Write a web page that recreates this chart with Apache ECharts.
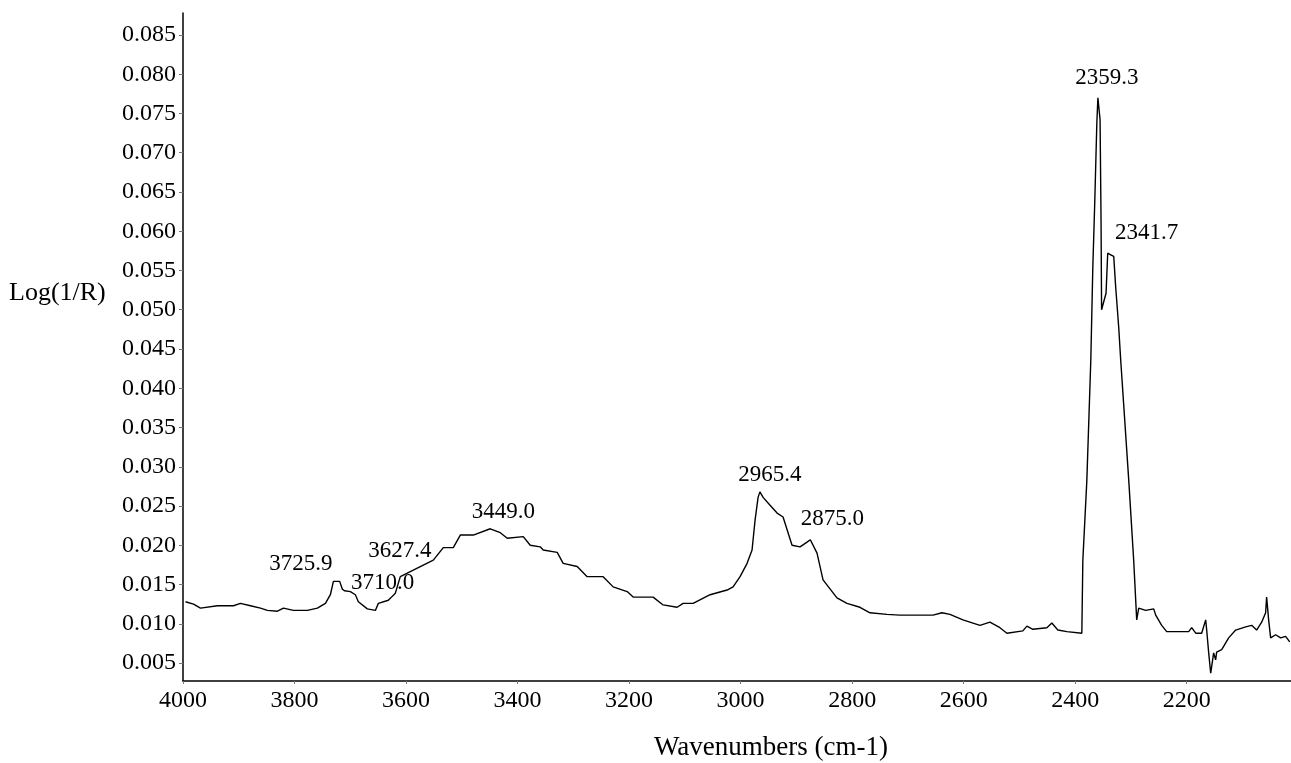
<!DOCTYPE html>
<html>
<head>
<meta charset="utf-8">
<script src="https://cdn.jsdelivr.net/npm/echarts@6/dist/echarts.min.js"></script>
<style>
  html, body { margin: 0; padding: 0; background: #ffffff; }
  #chart { width: 1291px; height: 763px; }
</style>
</head>
<body>
<div id="chart"></div>
<script>
// FTIR reflectance spectrum, Log(1/R) against wavenumber (cm-1)
const wavenumbers = [
  3995.5, 3981.2, 3968.6, 3938.2, 3909.5, 3897.0, 3879.0, 3861.1, 3848.6, 3830.6,
  3819.9, 3802.0, 3776.9, 3759.0, 3744.6, 3735.7, 3730.3, 3725.9, 3719.0, 3714.2,
  3710.0, 3699.8, 3690.9, 3685.5, 3669.4, 3655.0, 3649.7, 3631.8, 3627.4, 3619.2,
  3610.3, 3579.8, 3551.1, 3533.2, 3515.3, 3502.7, 3479.4, 3449.0, 3431.0, 3418.5,
  3389.8, 3377.3, 3359.4, 3354.0, 3328.9, 3318.2, 3293.1, 3275.2, 3246.5, 3228.6,
  3203.5, 3192.7, 3156.9, 3139.0, 3113.9, 3103.1, 3085.2, 3054.7, 3024.3, 3013.5,
  3001.0, 2988.4, 2979.5, 2974.1, 2968.7, 2965.4, 2959.7, 2947.2, 2934.6, 2923.9,
  2907.8, 2893.4, 2880.9, 2875.0, 2863.0, 2852.2, 2827.2, 2809.3, 2786.0, 2768.0,
  2737.6, 2714.3, 2655.0, 2639.0, 2624.6, 2601.3, 2570.8, 2552.9, 2535.0, 2522.5,
  2493.8, 2486.7, 2475.9, 2450.8, 2441.9, 2431.1, 2415.0, 2388.1, 2386.3, 2379.1,
  2372.0, 2368.4, 2364.8, 2361.2, 2359.3, 2355.4, 2353.6, 2352.7, 2344.7, 2341.7,
  2336.3, 2330.9, 2327.4, 2322.0, 2318.4, 2304.0, 2295.1, 2289.7, 2286.1, 2273.6,
  2259.2, 2255.6, 2244.9, 2235.9, 2196.5, 2191.1, 2183.9, 2173.2, 2166.0, 2164.2,
  2160.6, 2157.0, 2151.7, 2148.1, 2146.3, 2137.3, 2124.8, 2112.2, 2094.3, 2083.5,
  2074.6, 2065.6, 2058.5, 2056.7, 2053.1, 2049.5, 2040.5, 2031.6, 2022.6, 2015.4
];

const logInvR = [
  0.0128, 0.0125, 0.0120, 0.0123, 0.0123, 0.0126, 0.0123, 0.0120, 0.0117, 0.0116,
  0.0120, 0.0117, 0.0117, 0.0120, 0.0126, 0.0137, 0.0154, 0.0154, 0.0154, 0.0144,
  0.0142, 0.0141, 0.0137, 0.0128, 0.0119, 0.0117, 0.0126, 0.0130, 0.0133, 0.0139,
  0.0160, 0.0171, 0.0181, 0.0197, 0.0197, 0.0213, 0.0213, 0.0221, 0.0216, 0.0209,
  0.0211, 0.0200, 0.0198, 0.0194, 0.0191, 0.0177, 0.0173, 0.0160, 0.0160, 0.0147,
  0.0141, 0.0134, 0.0134, 0.0124, 0.0121, 0.0126, 0.0126, 0.0137, 0.0143, 0.0147,
  0.0160, 0.0177, 0.0194, 0.0232, 0.0261, 0.0268, 0.0261, 0.0251, 0.0241, 0.0236,
  0.0200, 0.0198, 0.0204, 0.0207, 0.0190, 0.0156, 0.0133, 0.0126, 0.0121, 0.0114,
  0.0112, 0.0111, 0.0111, 0.0114, 0.0112, 0.0105, 0.0098, 0.0102, 0.0095, 0.0088,
  0.0091, 0.0097, 0.0093, 0.0095, 0.0101, 0.0092, 0.0090, 0.0088, 0.0181, 0.0283,
  0.0436, 0.0554, 0.0640, 0.0738, 0.0770, 0.0742, 0.0610, 0.0500, 0.0521, 0.0572,
  0.0570, 0.0568, 0.0529, 0.0478, 0.0436, 0.0283, 0.0181, 0.0105, 0.0120, 0.0117,
  0.0119, 0.0111, 0.0098, 0.0090, 0.0090, 0.0095, 0.0088, 0.0088, 0.0105, 0.0092,
  0.0063, 0.0037, 0.0063, 0.0054, 0.0064, 0.0067, 0.0082, 0.0092, 0.0096, 0.0098,
  0.0092, 0.0102, 0.0114, 0.0134, 0.0105, 0.0082, 0.0086, 0.0082, 0.0084, 0.0077
];

// Annotated band positions (cm-1)
const peakWavenumbers = [3725.9, 3710.0, 3627.4, 3449.0, 2965.4, 2875.0, 2359.3, 2341.7];

// Axis tick labels
const xTicks = [4000, 3800, 3600, 3400, 3200, 3000, 2800, 2600, 2400, 2200];
const yTicks = [0.005, 0.010, 0.015, 0.020, 0.025, 0.030, 0.035, 0.040, 0.045,
                0.050, 0.055, 0.060, 0.065, 0.070, 0.075, 0.080, 0.085];

// Pixel offsets of each band label from its peak
const peakLabelOffsets = [[-35, -17], [38, -8], [9, -47], [13, -17], [10, -17], [22, -21], [9, -20], [39, -20]];

const serif = '"Liberation Serif", "Times New Roman", serif';

const spectrum = wavenumbers.map((w, i) => [w, logInvR[i]]);
const peaks = peakWavenumbers.map((w, i) => ({
  value: [w, logInvR[wavenumbers.indexOf(w)]],
  label: { offset: peakLabelOffsets[i] }
}));

const chart = echarts.init(document.getElementById('chart'), null, { renderer: 'canvas' });

chart.setOption({
  backgroundColor: '#ffffff',
  animation: false,
  grid: { left: 183, right: 0, top: 13, bottom: 82, containLabel: false },
  xAxis: {
    type: 'value',
    inverse: true,
    min: 2013,
    max: 4000,
    splitLine: { show: false },
    axisLine: { show: true, onZero: false, lineStyle: { color: '#000', width: 1.5 } },
    axisTick: { show: true, length: 3, customValues: xTicks, lineStyle: { color: '#777' } },
    axisLabel: {
      customValues: xTicks,
      margin: 8,
      color: '#000',
      fontFamily: serif,
      fontSize: 24,
      formatter: v => String(v)
    }
  },
  yAxis: {
    type: 'value',
    min: 0.00271,
    max: 0.0878,
    splitLine: { show: false },
    axisLine: { show: true, onZero: false, lineStyle: { color: '#000', width: 1.5 } },
    axisTick: { show: true, length: 4, customValues: yTicks, lineStyle: { color: '#777' } },
    axisLabel: {
      customValues: yTicks,
      margin: 7,
      color: '#000',
      fontFamily: serif,
      fontSize: 24,
      formatter: v => v.toFixed(3)
    }
  },
  graphic: [
    {
      type: 'text',
      left: 9,
      top: 280,
      style: { text: 'Log(1/R)', fontFamily: serif, fontSize: 26, fill: '#000' }
    },
    {
      type: 'text',
      x: 771,
      y: 748,
      style: {
        text: 'Wavenumbers (cm-1)', fontFamily: serif, fontSize: 27, fill: '#000',
        align: 'center', verticalAlign: 'middle'
      }
    }
  ],
  series: [
    {
      type: 'line',
      data: spectrum,
      showSymbol: false,
      lineStyle: { color: '#000', width: 1.4 },
      z: 3
    },
    {
      type: 'scatter',
      data: peaks,
      symbolSize: 0,
      silent: true,
      itemStyle: { opacity: 1, color: '#000' },
      label: {
        show: true,
        position: 'inside',
        color: '#000',
        opacity: 1,
        textBorderWidth: 0,
        textShadowBlur: 0,
        fontFamily: serif,
        fontSize: 23,
        formatter: p => p.value[0].toFixed(1)
      },
      z: 4
    }
  ]
});
</script>
</body>
</html>
